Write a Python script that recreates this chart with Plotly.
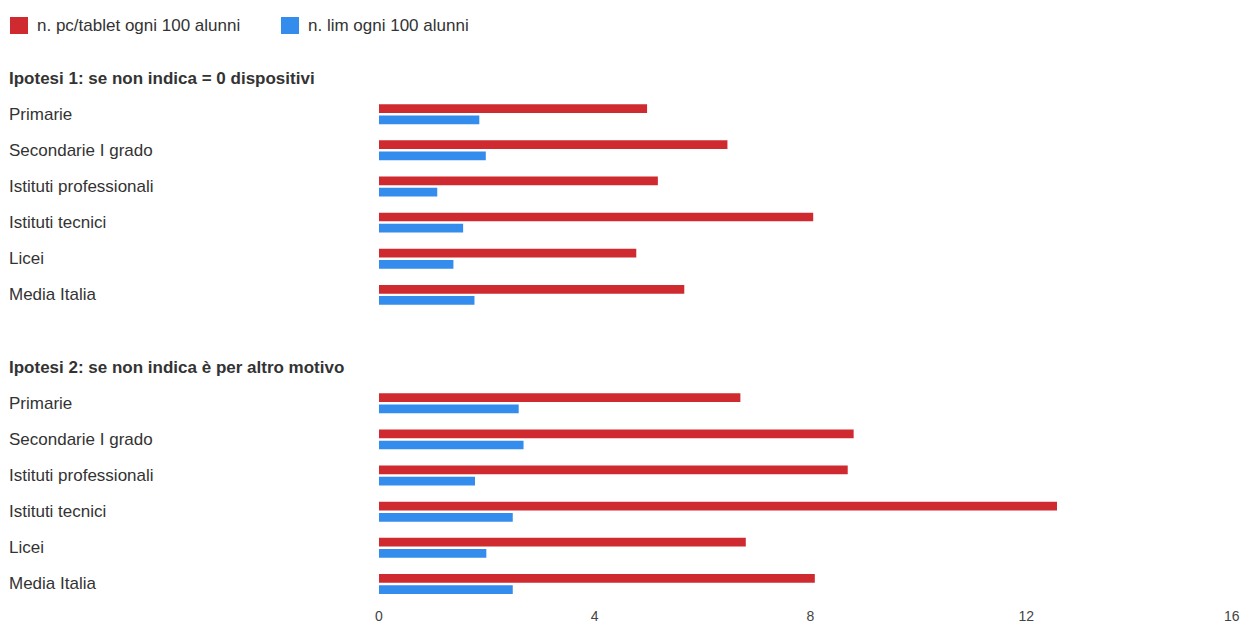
import plotly.graph_objects as go

# Data: devices per 100 pupils by school type, under two hypotheses
categories = ["Primarie", "Secondarie I grado", "Istituti professionali",
              "Istituti tecnici", "Licei", "Media Italia"]
headers = ["Ipotesi 1: se non indica = 0 dispositivi",
           "Ipotesi 2: se non indica è per altro motivo"]
pc_hyp1 = [4.97, 6.46, 5.17, 8.05, 4.77, 5.66]
lim_hyp1 = [1.86, 1.98, 1.08, 1.56, 1.38, 1.77]
pc_hyp2 = [6.70, 8.80, 8.69, 12.57, 6.80, 8.08]
lim_hyp2 = [2.59, 2.68, 1.78, 2.48, 1.99, 2.48]
series_names = ["n. pc/tablet ogni 100 alunni", "n. lim ogni 100 alunni"]
colors = ["#cf2a30", "#348ded"]
x_ticks = [0, 4, 8, 12, 16]

W, H = 1242, 625
M_T, M_B = 60, 23
PLOT_H = H - M_T - M_B
X0_PX = 379
FONT = "Liberation Sans, Arial, sans-serif"
TEXT_COLOR = "#333333"

# Row layout: header, six categories, blank, header, six categories
n = len(categories)
header_rows = [0, n + 2]
rows1 = list(range(1, n + 1))
rows2 = list(range(n + 3, 2 * n + 3))
rows = rows1 + rows2

fig = go.Figure()
for name, color, v1, v2 in [(series_names[0], colors[0], pc_hyp1, pc_hyp2),
                            (series_names[1], colors[1], lim_hyp1, lim_hyp2)]:
    fig.add_trace(go.Bar(
        name=name, orientation="h", y=rows, x=v1 + v2,
        marker=dict(color=color, line=dict(width=0)),
        showlegend=False,
    ))


def px_x(p):
    return p / W


def px_y(p):
    return (H - M_B - p) / PLOT_H


annotations = []
# Row labels, left aligned
for r, label in zip(rows, categories + categories):
    annotations.append(dict(
        x=px_x(7), xref="paper", xanchor="left", y=r, yref="y", yanchor="middle",
        text=label, showarrow=False, font=dict(family=FONT, size=17, color=TEXT_COLOR)))
for r, label in zip(header_rows, headers):
    annotations.append(dict(
        x=px_x(7), xref="paper", xanchor="left", y=r, yref="y", yanchor="middle",
        text="<b>" + label + "</b>", showarrow=False,
        font=dict(family=FONT, size=17, color=TEXT_COLOR)))

# Last axis label kept inside the page
annotations.append(dict(
    x=x_ticks[-1], xref="x", xanchor="right", xshift=0,
    y=0, yref="paper", yanchor="top", yshift=-4,
    text=str(x_ticks[-1]), showarrow=False,
    font=dict(family=FONT, size=14, color="#444444")))

# Legend drawn at the top left
shapes = []
legend_x = [10, 281]
for lx, name, color in zip(legend_x, series_names, colors):
    shapes.append(dict(type="rect", xref="paper", yref="paper",
                       x0=px_x(lx), x1=px_x(lx + 18), y0=px_y(34), y1=px_y(17),
                       fillcolor=color, line=dict(width=0)))
    annotations.append(dict(
        x=px_x(lx + 25), xref="paper", xanchor="left", y=px_y(26), yref="paper",
        yanchor="middle", text=name, showarrow=False,
        font=dict(family=FONT, size=17, color=TEXT_COLOR)))

fig.update_layout(
    width=W, height=H,
    margin=dict(l=0, r=0, t=M_T, b=M_B, autoexpand=False),
    paper_bgcolor="white", plot_bgcolor="white",
    barmode="group", bargap=0.38, bargroupgap=0.22,
    font=dict(family=FONT, color=TEXT_COLOR),
    xaxis=dict(domain=[X0_PX / W, 1], range=[x_ticks[0], x_ticks[-1]],
               tickvals=x_ticks[:-1], ticktext=[str(t) for t in x_ticks[:-1]],
               showgrid=False, zeroline=False, showline=False, automargin=False,
               ticks="", ticklabelstandoff=4,
               tickfont=dict(family=FONT, size=14, color="#444444")),
    yaxis=dict(range=[2 * n + 2.5, -0.5], showticklabels=False, automargin=False,
               showgrid=False, zeroline=False, showline=False, ticks=""),
    annotations=annotations, shapes=shapes,
)

fig.write_html("out.html")
